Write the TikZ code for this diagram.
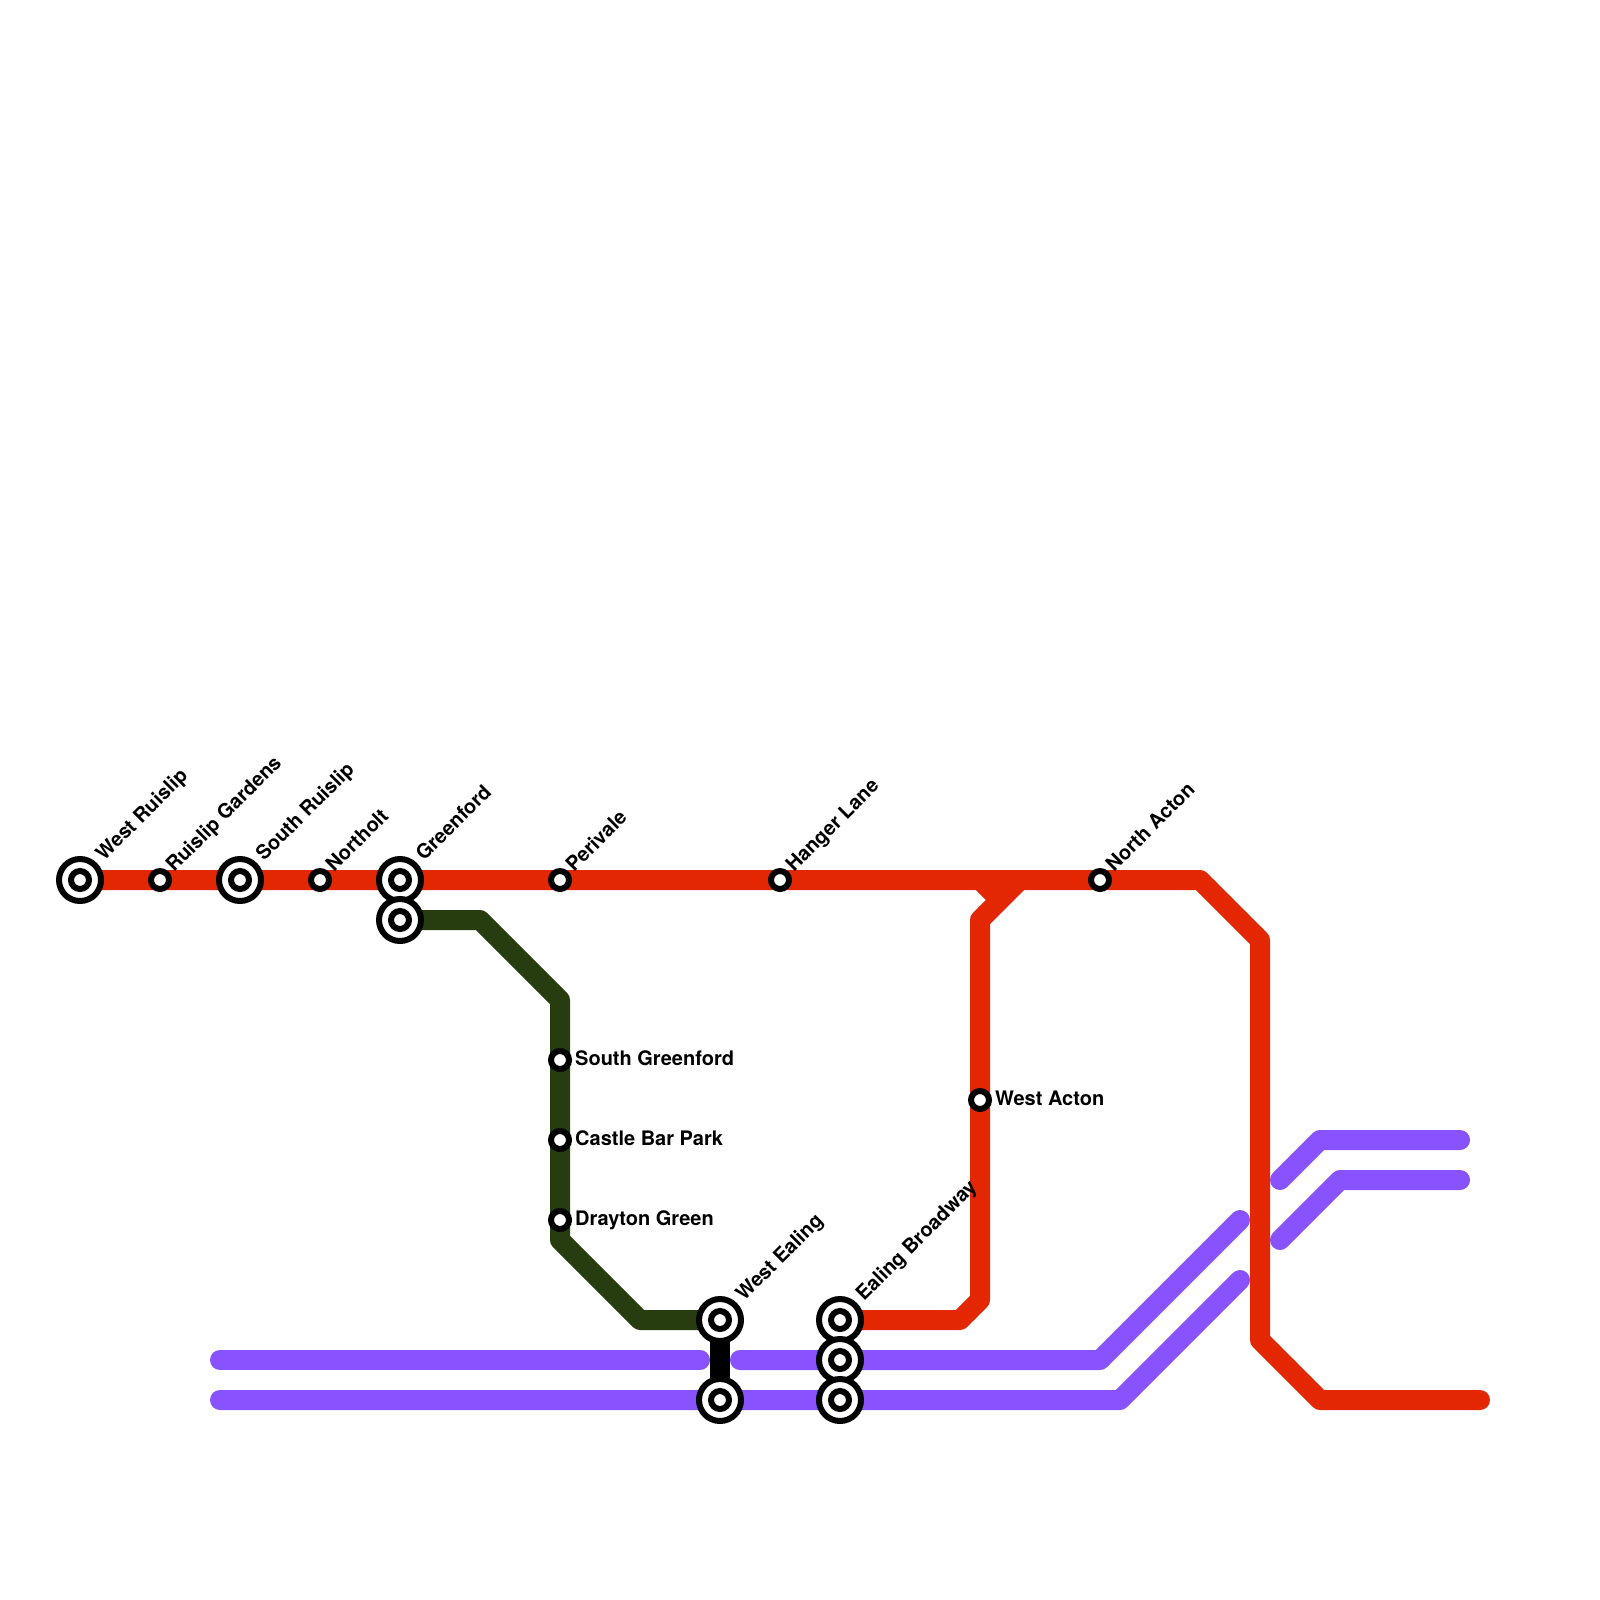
\documentclass[tikz,border=0pt]{standalone}
\usepackage{fontspec}
\setmainfont{TeX Gyre Heros}
\definecolor{redline}{HTML}{E42703}
\definecolor{greenline}{HTML}{273D0F}
\definecolor{purpleline}{HTML}{8852FF}
\tikzset{
  x=1pt,y=-1pt,
  metro/.style={line width=20pt,line join=round,line cap=round},
  redmetro/.style={metro,draw=redline},
  greenmetro/.style={metro,draw=greenline},
  purplemetro/.style={metro,draw=purpleline},
  blackmetro/.style={metro,draw=black},
  bigouter/.style={circle,draw=black,fill=white,line width=6pt,minimum size=42pt,inner sep=0pt,outer sep=0pt},
  biginner/.style={circle,draw=black,fill=white,line width=6pt,minimum size=18pt,inner sep=0pt,outer sep=0pt},
  smallstn/.style={circle,draw=black,fill=white,line width=6pt,minimum size=18pt,inner sep=0pt,outer sep=0pt},
  difflabel/.style={font=\bfseries\fontsize{20}{22}\selectfont,anchor=base west,rotate=45,inner sep=0pt},
  hlabel/.style={font=\bfseries\fontsize{20}{22}\selectfont,anchor=base west,inner sep=0pt},
}
\begin{document}
\begin{tikzpicture}
\useasboundingbox (0,0) rectangle (1600,1600);
% way points
\coordinate (wr) at (80,880);
\coordinate (rg) at (160,880);
\coordinate (sr) at (240,880);
\coordinate (no) at (320,880);
\coordinate (gf) at (400,880);
\coordinate (gg) at (400,920);
\coordinate (pe) at (560,880);
\coordinate (hl) at (780,880);
\coordinate (na) at (1100,880);
\coordinate (wa) at (980,1100);
\coordinate (sg) at (560,1060);
\coordinate (cb) at (560,1140);
\coordinate (dg) at (560,1220);
\coordinate (we) at (720,1320);
\coordinate (wf) at (720,1400);
\coordinate (eb) at (840,1320);
\coordinate (ec) at (840,1360);
\coordinate (ed) at (840,1400);
\coordinate (r1) at (1200,880);
\coordinate (r2) at (1260,940);
\coordinate (r3) at (1260,1340);
\coordinate (r4) at (1320,1400);
\coordinate (r5) at (1480,1400);
\coordinate (b0) at (1020,880);
\coordinate (b1) at (980,920);
\coordinate (b2) at (980,1300);
\coordinate (b3) at (960,1320);
\coordinate (s0) at (980,880);
\coordinate (s1) at (1000,900);
\coordinate (g1) at (480,920);
\coordinate (g2) at (560,1000);
\coordinate (g3) at (560,1240);
\coordinate (g4) at (640,1320);
\coordinate (p1a) at (220,1360);
\coordinate (p1b) at (700,1360);
\coordinate (p2a) at (740,1360);
\coordinate (p2b) at (1100,1360);
\coordinate (p2c) at (1240,1220);
\coordinate (p3a) at (220,1400);
\coordinate (p3b) at (1120,1400);
\coordinate (p3c) at (1240,1280);
\coordinate (p4a) at (1280,1180);
\coordinate (p4b) at (1320,1140);
\coordinate (p4c) at (1460,1140);
\coordinate (p5a) at (1280,1240);
\coordinate (p5b) at (1340,1180);
\coordinate (p5c) at (1460,1180);
% lines
\draw[purplemetro] (p1a) -- (p1b);
\draw[purplemetro] (p2a) -- (p2b) -- (p2c);
\draw[purplemetro] (p3a) -- (p3b) -- (p3c);
\draw[purplemetro] (p4a) -- (p4b) -- (p4c);
\draw[purplemetro] (p5a) -- (p5b) -- (p5c);
\draw[greenmetro] (gg) -- (g1) -- (g2) -- (g3) -- (g4) -- (we);
\draw[redmetro,line cap=butt] (s0) -- (s1);
\draw[redmetro] (wr) -- (r1) -- (r2) -- (r3) -- (r4) -- (r5);
\draw[redmetro] (b0) -- (b1) -- (b2) -- (b3) -- (eb);
\draw[blackmetro] (we) -- (wf);
% stations
\foreach \c in {wr,sr,gf,gg,we,wf,eb,ec,ed}{
  \node[bigouter] (\c o) at (\c) {};
  \node[biginner] (\c i) at (\c) {};
}
\foreach \c in {rg,no,pe,hl,na,wa,sg,cb,dg}{
  \node[smallstn] (\c s) at (\c) {};
}
% labels
\node[difflabel] (lwr) at (104,862) {West Ruislip};
\node[difflabel] (lrg) at (174,873) {Ruislip Gardens};
\node[difflabel] (lsr) at (264,862) {South Ruislip};
\node[difflabel] (lno) at (334,873) {Northolt};
\node[difflabel] (lgf) at (424,862) {Greenford};
\node[difflabel] (lpe) at (574,873) {Perivale};
\node[difflabel] (lhl) at (794,873) {Hanger Lane};
\node[difflabel] (lna) at (1114,873) {North Acton};
\node[difflabel] (lwe) at (744,1302) {West Ealing};
\node[difflabel] (leb) at (864,1302) {Ealing Broadway};
\node[hlabel] (lsg) at (575,1065) {South Greenford};
\node[hlabel] (lcb) at (575,1145) {Castle Bar Park};
\node[hlabel] (ldg) at (575,1225) {Drayton Green};
\node[hlabel] (lwa) at (995,1105) {West Acton};
\end{tikzpicture}
\end{document}
